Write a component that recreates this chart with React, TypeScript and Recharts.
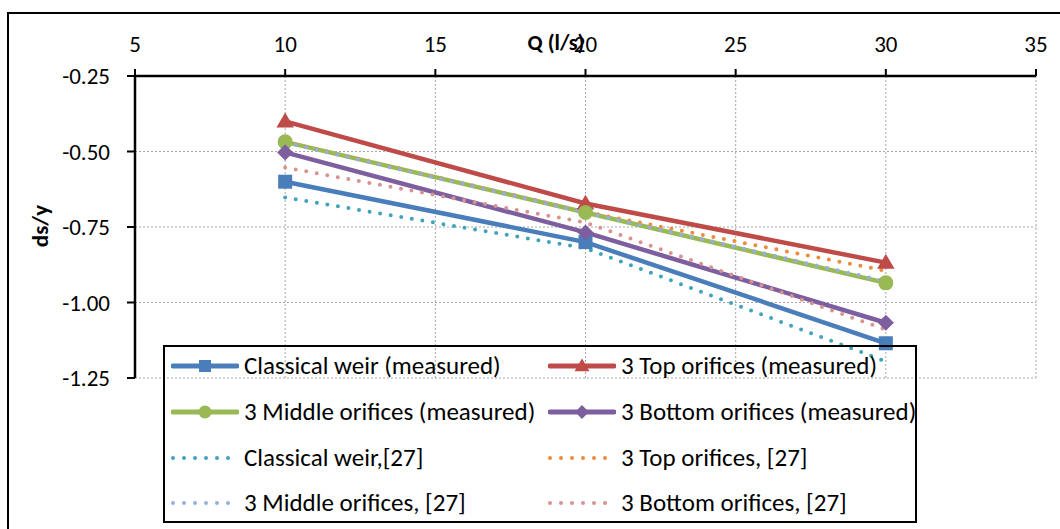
import { LineChart, Line, XAxis, YAxis, CartesianGrid, Legend } from 'recharts';

// flow rate Q (l/s)
const qValues = [10, 20, 30];

// ds/y, measured
const classicalMeasured = [-0.6, -0.8, -1.135];
const topMeasured = [-0.4, -0.672, -0.868];
const middleMeasured = [-0.468, -0.702, -0.935];
const bottomMeasured = [-0.503, -0.768, -1.067];

// ds/y, reference [27]
const classicalRef = [-0.652, -0.82, -1.195];
const topRef = [-0.468, -0.7, -0.895];
const middleRef = [-0.47, -0.702, -0.93];
const bottomRef = [-0.553, -0.735, -1.09];

const xTicks = [5, 10, 15, 20, 25, 30, 35];
const yTicks = [-1.25, -1.0, -0.75, -0.5, -0.25];

const data = qValues.map((q, i) => ({
  q,
  classicalMeasured: classicalMeasured[i],
  topMeasured: topMeasured[i],
  middleMeasured: middleMeasured[i],
  bottomMeasured: bottomMeasured[i],
  classicalRef: classicalRef[i],
  topRef: topRef[i],
  middleRef: middleRef[i],
  bottomRef: bottomRef[i],
}));

type Shape = 'square' | 'triangle' | 'circle' | 'diamond' | null;

const series: { key: string; name: string; color: string; dotted: boolean; shape: Shape }[] = [
  { key: 'classicalMeasured', name: 'Classical weir (measured)', color: '#4A7EBB', dotted: false, shape: 'square' },
  { key: 'topMeasured', name: '3 Top orifices (measured)', color: '#BE4B48', dotted: false, shape: 'triangle' },
  { key: 'middleMeasured', name: '3 Middle orifices (measured)', color: '#98B954', dotted: false, shape: 'circle' },
  { key: 'bottomMeasured', name: '3 Bottom orifices (measured)', color: '#7D5FA0', dotted: false, shape: 'diamond' },
  { key: 'classicalRef', name: 'Classical weir,[27]', color: '#3FA3BD', dotted: true, shape: null },
  { key: 'topRef', name: '3 Top orifices, [27]', color: '#F08A3C', dotted: true, shape: null },
  { key: 'middleRef', name: '3 Middle orifices, [27]', color: '#95AFDA', dotted: true, shape: null },
  { key: 'bottomRef', name: '3 Bottom orifices, [27]', color: '#D99290', dotted: true, shape: null },
];

const FONT = "Carlito, 'Liberation Sans', Arial, sans-serif";

function marker(shape: Shape, color: string, cx: number, cy: number, s: number, key?: string) {
  if (shape === 'square') return <rect key={key} x={cx - s} y={cy - s} width={s * 2} height={s * 2} fill={color} />;
  if (shape === 'circle') return <circle key={key} cx={cx} cy={cy} r={s + 0.5} fill={color} />;
  if (shape === 'triangle') {
    const h = s * 1.25;
    return <polygon key={key} points={`${cx},${cy - h} ${cx + h},${cy + h * 0.7} ${cx - h},${cy + h * 0.7}`} fill={color} />;
  }
  if (shape === 'diamond') {
    const h = s * 1.15;
    return <polygon key={key} points={`${cx},${cy - h} ${cx + h},${cy} ${cx},${cy + h} ${cx - h},${cy}`} fill={color} />;
  }
  return null;
}

const legendCols = [8, 385];
const legendRows = [21, 67, 113, 158];

const renderLegend = () => (
  <div style={{ position: 'relative', width: 754, height: 178, border: '2px solid #000', boxSizing: 'border-box' }}>
    {series.map((s, i) => {
      const col = i % 2;
      const row = Math.floor(i / 2);
      return (
        <div key={s.key} style={{ position: 'absolute', left: legendCols[col] - 2, top: legendRows[row] - 2 - 14, height: 28, display: 'flex', alignItems: 'center' }}>
          <svg width={68} height={28} style={{ display: 'block' }}>
            {s.dotted ? (
              <line x1={2} y1={14} x2={60} y2={14} stroke={s.color} strokeWidth={4} strokeLinecap="round" strokeDasharray="0 11" />
            ) : (
              <>
                <line x1={2} y1={14} x2={66} y2={14} stroke={s.color} strokeWidth={5} strokeLinecap="round" />
                {marker(s.shape, s.color, 34, 14, 6)}
              </>
            )}
          </svg>
          <span style={{ marginLeft: 5, fontFamily: FONT, fontSize: 25, lineHeight: '28px', color: '#000', whiteSpace: 'nowrap' }}>{s.name}</span>
        </div>
      );
    })}
  </div>
);

export default function App() {
  return (
    <div style={{ position: 'absolute', left: 0, top: 0, width: 1060, height: 529, overflow: 'hidden', background: '#fff' }}>
      <div style={{ position: 'absolute', left: 7, top: 12, width: 1200, height: 700, border: '2.5px solid #000' }} />
      <div style={{ position: 'absolute', left: 0, top: 0 }}>
        <LineChart width={1060} height={529} data={data} margin={{ top: 36, right: 24, left: 55, bottom: 151 }}>
          <CartesianGrid stroke="#a6a6a6" strokeDasharray="2 2" strokeWidth={1} />
          <XAxis
            dataKey="q"
            type="number"
            orientation="top"
            height={40}
            domain={[5, 35]}
            ticks={xTicks}
            interval={0}
            axisLine={{ stroke: '#000', strokeWidth: 2.5 }}
            tickLine={{ stroke: '#000', strokeWidth: 2 }}
            tickSize={7}
            tickMargin={17}
            tick={{ fill: '#000', fontSize: 23, fontFamily: FONT }}
          />
          <YAxis
            type="number"
            width={80}
            domain={[-1.25, -0.25]}
            ticks={yTicks}
            interval={0}
            tickFormatter={(v: number) => v.toFixed(2)}
            axisLine={{ stroke: '#000', strokeWidth: 2.5 }}
            tickLine={{ stroke: '#000', strokeWidth: 2 }}
            tickSize={8}
            tickMargin={17}
            tick={{ fill: '#000', fontSize: 23, fontFamily: FONT }}
          />
          <Legend
            layout="horizontal"
            verticalAlign="middle"
            align="center"
            content={renderLegend}
            wrapperStyle={{ left: 163, top: 345, width: 754, height: 178 }}
          />
          {series.map((s) =>
            s.dotted ? (
              <Line
                key={s.key}
                dataKey={s.key}
                name={s.name}
                stroke={s.color}
                strokeWidth={4}
                strokeLinecap="round"
                strokeDasharray="0 10.7"
                dot={false}
                activeDot={false}
                isAnimationActive={false}
              />
            ) : (
              <Line
                key={s.key}
                dataKey={s.key}
                name={s.name}
                stroke={s.color}
                strokeWidth={4.5}
                dot={(p: any) => marker(s.shape, s.color, p.cx, p.cy, 7, `${s.key}-${p.index}`)}
                activeDot={false}
                isAnimationActive={false}
              />
            )
          )}
        </LineChart>
      </div>
      <div style={{ position: 'absolute', left: 556, top: 42, transform: 'translate(-50%, -50%)', fontFamily: FONT, fontWeight: 'bold', fontSize: 22, whiteSpace: 'nowrap' }}>
        Q (l/s)
      </div>
      <div style={{ position: 'absolute', left: 40, top: 226, transform: 'translate(-50%, -50%) rotate(-90deg)', fontFamily: FONT, fontWeight: 'bold', fontSize: 23, whiteSpace: 'nowrap' }}>
        ds/y
      </div>
    </div>
  );
}
